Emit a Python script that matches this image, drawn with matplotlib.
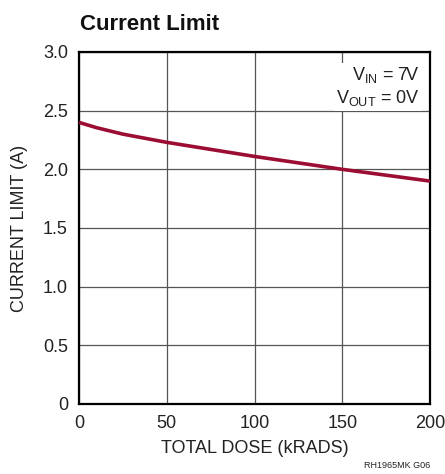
import matplotlib
matplotlib.use("Agg")
import matplotlib.pyplot as plt
from matplotlib import font_manager

# Total dose (kRADS) and measured current limit (A)
dose = [0, 10, 25, 50, 75, 100, 125, 150, 175, 200]
current_limit = [2.40, 2.355, 2.30, 2.23, 2.17, 2.11, 2.055, 2.00, 1.95, 1.90]

x_ticks = [0, 50, 100, 150, 200]
y_ticks = [0, 0.5, 1.0, 1.5, 2.0, 2.5, 3.0]
y_tick_labels = ["0", "0.5", "1.0", "1.5", "2.0", "2.5", "3.0"]

names = {f.name for f in font_manager.fontManager.ttflist}
family = "Liberation Sans Narrow" if "Liberation Sans Narrow" in names else "Liberation Sans"
plt.rcParams["font.family"] = [family, "DejaVu Sans"]

fig = plt.figure(figsize=(4.45, 4.74), dpi=100)
ax = fig.add_axes([79 / 445, 1 - 404 / 474, 351 / 445, 352 / 474])

ax.plot(dose, current_limit, color="#9b0d32", lw=2.6, solid_capstyle="butt", zorder=3)

ax.set_xlim(0, 200)
ax.set_ylim(0, 3.0)
ax.set_xticks(x_ticks)
ax.set_yticks(y_ticks)
ax.set_yticklabels(y_tick_labels)
ax.tick_params(axis="both", length=0, labelsize=13, colors="#222222")
ax.tick_params(axis="x", pad=8)
ax.tick_params(axis="y", pad=8)
ax.grid(True, color="#555555", lw=0.9)
for s in ax.spines.values():
    s.set_linewidth(1.6)
    s.set_color("black")

ax.set_xlabel("TOTAL DOSE (kRADS)", fontsize=13, color="#222222", labelpad=6)
ax.set_ylabel("CURRENT LIMIT (A)", fontsize=13, color="#222222", labelpad=11)

ax.text(0.972, 0.962, "$\\mathregular{V_{IN}}$ = 7V\n$\\mathregular{V_{OUT}}$ = 0V",
        transform=ax.transAxes, ha="right", va="top", fontsize=13,
        color="#222222", linespacing=1.2,
        bbox=dict(facecolor="white", edgecolor="none", pad=1.5), zorder=4)

fig.text(80 / 445, 1 - 24 / 474, "Current Limit", fontsize=16, fontweight="bold",
         ha="left", va="center", color="#111111")
fig.text(430 / 445, 1 - 466 / 474, "RH1965MK G06", fontsize=6.5, ha="right",
         va="center", color="#222222")

fig.savefig("out.png", dpi=100)
